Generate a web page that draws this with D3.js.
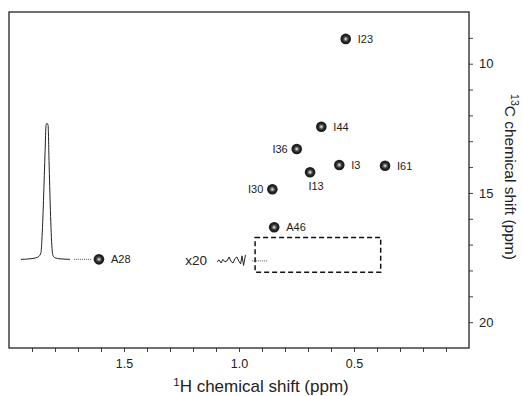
<!DOCTYPE html>
<html>
<head>
<meta charset="utf-8">
<script src="https://cdn.jsdelivr.net/npm/d3@7"></script>
<style>
  body { margin: 0; background: #fff; }
  svg { font-family: "Liberation Sans", Arial, sans-serif; }
</style>
</head>
<body>
<svg width="523" height="396"></svg>
<script>
// 2D peaks (1H ppm, 13C ppm)
const peakNames = ['I23', 'I44', 'I36', 'I3', 'I61', 'I13', 'I30', 'A46', 'A28']
const peakH = [0.536, 0.642, 0.749, 0.564, 0.365, 0.691, 0.855, 0.847, 1.609]
const peakC = [9.04, 12.44, 13.30, 13.92, 13.95, 14.20, 14.86, 16.33, 17.57]
const labelSide = ['right', 'right', 'left', 'right', 'right', 'below', 'left', 'right', 'right']

// 1D trace on the left
const specPpm = [1.948, 1.909, 1.883, 1.870, 1.861, 1.857, 1.850, 1.843, 1.839, 1.835, 1.830, 1.826, 1.820, 1.813, 1.809, 1.800, 1.778, 1.735]
const specInt = [0, 0.004, 0.011, 0.022, 0.051, 0.14, 0.434, 0.80, 0.985, 1, 0.985, 0.728, 0.36, 0.081, 0.029, 0.011, 0.004, 0]
const specBase = 17.57

// x20 noise trace (already scaled by 20)
const noisePpm = [1.096, 1.087, 1.078, 1.070, 1.061, 1.052, 1.043, 1.035, 1.026, 1.017, 1.009, 1.000, 0.993, 0.987, 0.980, 0.972]
const noiseInt = [-0.007, 0.007, -0.015, 0.011, -0.007, 0, 0.029, -0.004, -0.015, 0.018, 0.029, -0.004, -0.022, 0.037, -0.033, 0.044]
const noiseBase = 17.63

// dashed box and dotted connectors
const boxH = [0.930, 0.384]
const boxC = [16.72, 18.07]
const dotA28 = [1.717, 1.639]
const dotBox = [0.943, 0.874]

const xTicks = d3.range(1, 20).map(i => i / 10)
const xLabels = [0.5, 1.0, 1.5]
const yTicks = d3.range(9, 21)
const yLabels = [10, 15, 20]

const margin = {top: 12, right: 54, bottom: 48, left: 9}
const width = 523
const height = 396

const svg = d3.select('svg')

const x = d3.scaleLinear()
  .domain([2.0, 0.0])
  .range([margin.left, width - margin.right])

const y = d3.scaleLinear()
  .domain([8, 21])
  .range([margin.top, height - margin.bottom])

const amp = d3.scaleLinear()
  .domain([0, 1])
  .range([0, -136])

// axes
svg.append('g')
  .attr('transform', `translate(0, ${y(21)})`)
  .call(d3.axisBottom(x)
    .tickValues(xTicks)
    .tickSize(4)
    .tickPadding(7)
    .tickFormat(d => xLabels.some(v => Math.abs(v - d) < 1e-6) ? d3.format('.1f')(d) : ''))
  .call(g => g.select('.domain').remove())
  .call(g => g.selectAll('line').attr('stroke', '#444'))
  .call(g => g.selectAll('text').attr('font-size', 12.5).attr('fill', '#222').attr('font-family', null))

svg.append('g')
  .attr('transform', `translate(${x(0)}, 0)`)
  .call(d3.axisRight(y)
    .tickValues(yTicks)
    .tickSize(4)
    .tickPadding(6)
    .tickFormat(d => yLabels.includes(d) ? d : ''))
  .call(g => g.select('.domain').remove())
  .call(g => g.selectAll('line').attr('stroke', '#444'))
  .call(g => g.selectAll('text').attr('font-size', 13).attr('fill', '#222').attr('font-family', null))

// frame
svg.append('rect')
  .attr('x', x(2))
  .attr('y', y(8))
  .attr('width', x(0) - x(2))
  .attr('height', y(21) - y(8))
  .attr('fill', 'none')
  .attr('stroke', '#222')
  .attr('stroke-width', 1.3)

// axis titles
const xt = svg.append('text')
  .attr('x', 261)
  .attr('y', 392)
  .attr('text-anchor', 'middle')
  .attr('font-size', 17)
  .attr('fill', '#222')
xt.append('tspan').attr('font-size', 11.5).attr('dy', -6).text('1')
xt.append('tspan').attr('dy', 6).text('H chemical shift (ppm)')

const yt = svg.append('text')
  .attr('transform', 'translate(505, 177) rotate(90)')
  .attr('text-anchor', 'middle')
  .attr('font-size', 15.5)
  .attr('fill', '#222')
yt.append('tspan').attr('font-size', 10.5).attr('dy', -6).text('13')
yt.append('tspan').attr('dy', 6).text('C chemical shift (ppm)')

// 1D trace
const line = d3.line()
  .x(d => x(d[0]))
  .y(d => d[1])

svg.append('path')
  .datum(specPpm.map((p, i) => [p, y(specBase) + amp(specInt[i])]))
  .attr('d', line.curve(d3.curveMonotoneX))
  .attr('fill', 'none')
  .attr('stroke', '#222')
  .attr('stroke-width', 1)

svg.append('path')
  .datum(noisePpm.map((p, i) => [p, y(noiseBase) + amp(noiseInt[i])]))
  .attr('d', d3.line().x(d => x(d[0])).y(d => d[1]))
  .attr('fill', 'none')
  .attr('stroke', '#222')
  .attr('stroke-width', 1)

svg.append('text')
  .attr('x', x(noisePpm[0]) - 10)
  .attr('y', y(noiseBase) + 4)
  .attr('text-anchor', 'end')
  .attr('font-size', 13.5)
  .attr('fill', '#222')
  .text('x20')

// dotted connectors
svg.append('line')
  .attr('x1', x(dotA28[0])).attr('x2', x(dotA28[1]))
  .attr('y1', y(specBase)).attr('y2', y(specBase))
  .attr('stroke', '#555')
  .attr('stroke-dasharray', '1,1')

svg.append('line')
  .attr('x1', x(dotBox[0])).attr('x2', x(dotBox[1]))
  .attr('y1', y(noiseBase)).attr('y2', y(noiseBase))
  .attr('stroke', '#555')
  .attr('stroke-dasharray', '1,1')

// dashed box
svg.append('rect')
  .attr('x', x(boxH[0]))
  .attr('y', y(boxC[0]))
  .attr('width', x(boxH[1]) - x(boxH[0]))
  .attr('height', y(boxC[1]) - y(boxC[0]))
  .attr('fill', 'none')
  .attr('stroke', '#111')
  .attr('stroke-width', 1.5)
  .attr('stroke-dasharray', '5,3')

// peaks
const peaks = svg.append('g')
  .selectAll('g')
  .data(peakNames.map((n, i) => ({name: n, h: peakH[i], c: peakC[i], side: labelSide[i]})))
  .join('g')
  .attr('transform', d => `translate(${x(d.h)}, ${y(d.c)})`)

peaks.append('circle').attr('r', 5.3).attr('fill', '#1c1c1c')
peaks.append('circle').attr('r', 3.3).attr('fill', '#3a3a3a')
peaks.append('circle').attr('r', 2).attr('fill', '#888')
peaks.append('circle').attr('r', 0.9).attr('fill', '#ddd')

peaks.append('text')
  .attr('x', d => d.side === 'right' ? 12 : d.side === 'left' ? -9 : 6)
  .attr('y', d => d.side === 'below' ? 18 : 4)
  .attr('text-anchor', d => d.side === 'right' ? 'start' : d.side === 'left' ? 'end' : 'middle')
  .attr('font-size', 11)
  .attr('fill', '#222')
  .text(d => d.name)
</script>
</body>
</html>
